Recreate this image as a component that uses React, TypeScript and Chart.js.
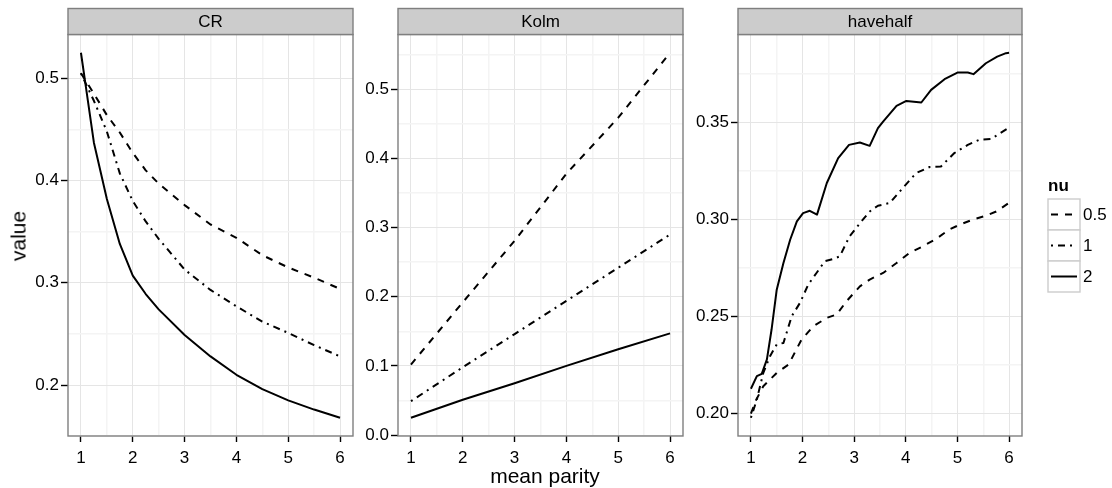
import React, { useEffect, useRef } from 'react';
import { Chart, registerables } from 'chart.js';

Chart.register(...registerables);

const FONT = '"Liberation Sans", Arial, Helvetica, sans-serif';

// ---- legend / series styling ----
const NU_LABELS = ['0.5', '1', '2'];
const NU_DASH: number[][] = [[7, 7], [2, 5, 7, 5], []];

// ---- x axis ticks (shared) ----
const X_MAJOR = [1, 2, 3, 4, 5, 6];
const X_MINOR = [1.5, 2.5, 3.5, 4.5, 5.5];

// ---- CR panel ----
const CR_X = [1, 1.1, 1.25, 1.5, 1.75, 2, 2.25, 2.5, 3, 3.5, 4, 4.5, 5, 5.5, 6];
const CR_NU05 = [0.505, 0.497, 0.485, 0.464, 0.447, 0.427, 0.41, 0.397, 0.376, 0.357, 0.344, 0.327, 0.315, 0.305, 0.294];
const CR_NU1 = [0.505, 0.494, 0.478, 0.448, 0.407, 0.38, 0.36, 0.343, 0.313, 0.293, 0.277, 0.262, 0.251, 0.239, 0.228];
const CR_NU2 = [0.525, 0.49, 0.437, 0.382, 0.338, 0.307, 0.289, 0.274, 0.249, 0.228, 0.21, 0.196, 0.185, 0.176, 0.168];
const CR_Y_MAJOR = [0.2, 0.3, 0.4, 0.5];
const CR_Y_MINOR = [0.15, 0.25, 0.35, 0.45];

// ---- Kolm panel ----
const KOLM_X = [1, 2, 3, 4, 5, 6];
const KOLM_NU05 = [0.102, 0.192, 0.281, 0.378, 0.459, 0.553];
const KOLM_NU1 = [0.049, 0.098, 0.146, 0.194, 0.242, 0.29];
const KOLM_NU2 = [0.025, 0.051, 0.075, 0.1, 0.124, 0.147];
const KOLM_Y_MAJOR = [0, 0.1, 0.2, 0.3, 0.4, 0.5];
const KOLM_Y_MINOR = [0.05, 0.15, 0.25, 0.35, 0.45, 0.55];

// ---- havehalf panel ----
const HH_NU05_X = [1, 1.1, 1.24, 1.5, 1.73, 1.98, 2.21, 2.47, 2.66, 2.85, 3.11, 3.3, 3.56, 3.82, 4.07, 4.33, 4.59, 4.84, 5.04, 5.29, 5.55, 5.75, 6];
const HH_NU05_Y = [0.2, 0.207, 0.2141, 0.221, 0.2253, 0.2381, 0.245, 0.2493, 0.251, 0.2578, 0.2655, 0.269, 0.2724, 0.2775, 0.2827, 0.2861, 0.29, 0.2947, 0.2972, 0.2998, 0.3018, 0.304, 0.3085];
const HH_NU1_X = [1, 1.115, 1.24, 1.37, 1.5, 1.63, 1.79, 1.95, 2.11, 2.27, 2.43, 2.59, 2.72, 2.91, 3.14, 3.3, 3.46, 3.69, 3.94, 4.2, 4.46, 4.68, 4.94, 5.2, 5.42, 5.65, 6];
const HH_NU1_Y = [0.1979, 0.2073, 0.221, 0.2296, 0.2356, 0.2364, 0.2501, 0.257, 0.2664, 0.2724, 0.2784, 0.2796, 0.2809, 0.2912, 0.2989, 0.304, 0.307, 0.3084, 0.3161, 0.3238, 0.3269, 0.3272, 0.3341, 0.3383, 0.3409, 0.3413, 0.3472];
const HH_NU2_X = [1, 1.115, 1.21, 1.31, 1.4, 1.5, 1.63, 1.76, 1.89, 2.01, 2.14, 2.28, 2.47, 2.69, 2.9, 3.11, 3.3, 3.46, 3.56, 3.82, 4.01, 4.3, 4.49, 4.75, 5.0, 5.2, 5.31, 5.55, 5.77, 5.94, 6];
const HH_NU2_Y = [0.2128, 0.2193, 0.2205, 0.2279, 0.2433, 0.2638, 0.2775, 0.2895, 0.2989, 0.3032, 0.3044, 0.3024, 0.3187, 0.3315, 0.3383, 0.3395, 0.3378, 0.3469, 0.3503, 0.3584, 0.3609, 0.3601, 0.3666, 0.3721, 0.3755, 0.3755, 0.3747, 0.3803, 0.3837, 0.3855, 0.3857];
const HH_Y_MAJOR = [0.2, 0.25, 0.3, 0.35];
const HH_Y_MINOR = [0.225, 0.275, 0.325, 0.375];

type Series = { x: number[]; y: number[] };
type Panel = {
  title: string;
  series: Series[];
  yMajor: number[];
  yMinor: number[];
  decimals: number;
  left: number;
  width: number;
  yAxisWidth: number;
  padRight: number;
  legend: boolean;
};

const PANELS: Panel[] = [
  {
    title: 'CR',
    series: [{ x: CR_X, y: CR_NU05 }, { x: CR_X, y: CR_NU1 }, { x: CR_X, y: CR_NU2 }],
    yMajor: CR_Y_MAJOR, yMinor: CR_Y_MINOR, decimals: 1,
    left: 0, width: 360, yAxisWidth: 68, padRight: 7, legend: false,
  },
  {
    title: 'Kolm',
    series: [{ x: KOLM_X, y: KOLM_NU05 }, { x: KOLM_X, y: KOLM_NU1 }, { x: KOLM_X, y: KOLM_NU2 }],
    yMajor: KOLM_Y_MAJOR, yMinor: KOLM_Y_MINOR, decimals: 1,
    left: 356, width: 334, yAxisWidth: 42, padRight: 7, legend: false,
  },
  {
    title: 'havehalf',
    series: [{ x: HH_NU05_X, y: HH_NU05_Y }, { x: HH_NU1_X, y: HH_NU1_Y }, { x: HH_NU2_X, y: HH_NU2_Y }],
    yMajor: HH_Y_MAJOR, yMinor: HH_Y_MINOR, decimals: 2,
    left: 686, width: 426, yAxisWidth: 52, padRight: 90, legend: true,
  },
];

const CANVAS_H = 488;
const PANEL_TOP = 34.5;
const X_AXIS_H = 52;

function expand(vals: number[]): [number, number] {
  const mn = Math.min(...vals);
  const mx = Math.max(...vals);
  const d = (mx - mn) * 0.05;
  return [mn - d, mx + d];
}

const has = (arr: number[], v: number) => arr.some((m) => Math.abs(m - v) < 1e-9);

const facetPlugin = {
  id: 'facet',
  afterDraw(chart: any, _args: any, opts: any) {
    const { ctx, chartArea: a } = chart;
    ctx.save();
    // panel border
    ctx.strokeStyle = '#7f7f7f';
    ctx.lineWidth = 1.4;
    ctx.strokeRect(a.left, a.top, a.right - a.left, a.bottom - a.top);
    // strip
    const sh = 26;
    ctx.fillStyle = '#cccccc';
    ctx.fillRect(a.left, a.top - sh, a.right - a.left, sh);
    ctx.strokeStyle = '#7f7f7f';
    ctx.lineWidth = 1.4;
    ctx.strokeRect(a.left, a.top - sh, a.right - a.left, sh);
    ctx.fillStyle = '#000';
    ctx.font = `17px ${FONT}`;
    ctx.textAlign = 'center';
    ctx.textBaseline = 'middle';
    ctx.fillText(opts.title, (a.left + a.right) / 2, a.top - sh / 2 + 1);

    if (opts.legend) {
      const lx = a.right + 26;
      const ly = 199;
      const kw = 32;
      const kh = 31;
      ctx.textAlign = 'left';
      ctx.font = `bold 17px ${FONT}`;
      ctx.fillText('nu', lx, ly - 13);
      ctx.font = `17px ${FONT}`;
      chart.data.datasets.forEach((ds: any, i: number) => {
        const y = ly + i * kh;
        ctx.fillStyle = '#fff';
        ctx.fillRect(lx, y, kw, kh);
        ctx.strokeStyle = '#cccccc';
        ctx.lineWidth = 1.4;
        ctx.setLineDash([]);
        ctx.strokeRect(lx, y, kw, kh);
        ctx.strokeStyle = '#000';
        ctx.lineWidth = 2;
        ctx.setLineDash(ds.borderDash || []);
        ctx.beginPath();
        ctx.moveTo(lx + 3, y + kh / 2);
        ctx.lineTo(lx + kw - 3, y + kh / 2);
        ctx.stroke();
        ctx.setLineDash([]);
        ctx.fillStyle = '#000';
        ctx.fillText(ds.label, lx + kw + 3, y + kh / 2 + 1);
      });
    }
    ctx.restore();
  },
};

function makeChart(canvas: HTMLCanvasElement, p: Panel) {
  const allX = p.series.flatMap((s) => s.x);
  const allY = p.series.flatMap((s) => s.y);
  const [xMin, xMax] = expand(allX);
  const [yMin, yMax] = expand(allY);
  const xTicks = [...X_MAJOR, ...X_MINOR].sort((a, b) => a - b);
  const yTicks = [...p.yMajor, ...p.yMinor].sort((a, b) => a - b);

  const gridColor = (major: number[]) => (c: any) =>
    c.tick && has(major, c.tick.value) ? '#e5e5e5' : '#f4f4f4';
  const gridWidth = (major: number[]) => (c: any) =>
    c.tick && has(major, c.tick.value) ? 1 : 1.5;
  const tickColor = (major: number[]) => (c: any) =>
    c.tick && has(major, c.tick.value) ? '#000' : 'rgba(0,0,0,0)';

  return new Chart(canvas, {
    type: 'line',
    data: {
      datasets: p.series.map((s, i) => ({
        label: NU_LABELS[i],
        data: s.x.map((x, j) => ({ x, y: s.y[j] })),
        borderColor: '#000',
        borderWidth: 2,
        borderDash: NU_DASH[i],
        borderCapStyle: 'butt',
        borderJoinStyle: 'round',
        pointRadius: 0,
        fill: false,
        tension: 0,
      })),
    },
    options: {
      responsive: false,
      maintainAspectRatio: false,
      animation: false,
      events: [],
      layout: { padding: { top: PANEL_TOP, right: p.padRight, left: 0, bottom: 0 } },
      plugins: {
        legend: { display: false },
        tooltip: { enabled: false },
        facet: { title: p.title, legend: p.legend },
      } as any,
      scales: {
        x: {
          type: 'linear',
          min: xMin,
          max: xMax,
          afterBuildTicks: (s: any) => {
            s.ticks = xTicks.map((v) => ({ value: v }));
          },
          afterFit: (s: any) => {
            s.height = X_AXIS_H;
          },
          border: { display: false },
          grid: {
            color: gridColor(X_MAJOR),
            lineWidth: gridWidth(X_MAJOR),
            tickColor: tickColor(X_MAJOR),
            tickLength: 6,
            tickWidth: 1.4,
            drawTicks: true,
          },
          ticks: {
            autoSkip: false,
            maxRotation: 0,
            padding: 6,
            color: '#000',
            font: { family: FONT, size: 17 },
            callback: (v: any) => (has(X_MAJOR, Number(v)) ? String(v) : ''),
          },
        },
        y: {
          type: 'linear',
          min: yMin,
          max: yMax,
          afterBuildTicks: (s: any) => {
            s.ticks = yTicks.map((v) => ({ value: v }));
          },
          afterFit: (s: any) => {
            s.width = p.yAxisWidth;
          },
          border: { display: false },
          grid: {
            color: gridColor(p.yMajor),
            lineWidth: gridWidth(p.yMajor),
            tickColor: tickColor(p.yMajor),
            tickLength: 7,
            tickWidth: 1.4,
            drawTicks: true,
          },
          ticks: {
            autoSkip: false,
            padding: 2,
            color: '#000',
            font: { family: FONT, size: 17 },
            callback: (v: any) => (has(p.yMajor, Number(v)) ? Number(v).toFixed(p.decimals) : ''),
          },
        },
      },
    } as any,
    plugins: [facetPlugin as any],
  });
}

export default function App() {
  const refs = useRef<(HTMLCanvasElement | null)[]>([]);

  useEffect(() => {
    const charts = PANELS.map((p, i) => makeChart(refs.current[i] as HTMLCanvasElement, p));
    return () => charts.forEach((c) => c.destroy());
  }, []);

  return (
    <div
      style={{
        position: 'fixed',
        left: 0,
        top: 0,
        width: 1112,
        height: 488,
        background: '#fff',
        overflow: 'hidden',
        fontFamily: FONT,
      }}
    >
      {PANELS.map((p, i) => (
        <canvas
          key={p.title}
          ref={(el) => {
            refs.current[i] = el;
          }}
          width={p.width}
          height={CANVAS_H}
          style={{ position: 'absolute', left: p.left, top: 0, width: p.width, height: CANVAS_H, display: 'block' }}
        />
      ))}
      <div
        style={{
          position: 'absolute',
          left: 0,
          width: 1090,
          top: 465,
          textAlign: 'center',
          fontSize: 21,
          lineHeight: '21px',
          color: '#000',
          whiteSpace: 'nowrap',
        }}
      >
        mean parity
      </div>
      <div
        style={{
          position: 'absolute',
          left: 18,
          top: 235.5,
          transform: 'translate(-50%, -50%) rotate(-90deg)',
          fontSize: 21,
          lineHeight: '21px',
          color: '#000',
          whiteSpace: 'nowrap',
        }}
      >
        value
      </div>
    </div>
  );
}
